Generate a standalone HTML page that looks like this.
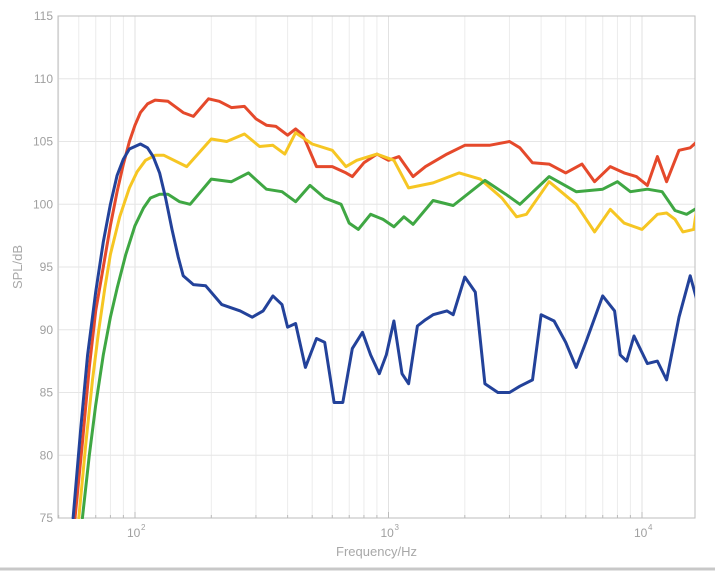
<!DOCTYPE html>
<html><head><meta charset="utf-8"><style>
html,body{margin:0;padding:0;background:#fff;}
svg{display:block;font-family:"Liberation Sans",sans-serif;}
</style></head><body>
<svg id="chart" width="715" height="574" viewBox="0 0 715 574">
<rect x="0" y="0" width="715" height="574" fill="#fff"/>
<g id="grid"></g><g id="axes"></g><g id="series"></g>
<line x1="0" y1="569" x2="715" y2="569" stroke="#c8c8c8" stroke-width="3"/>
</svg>
<script>
const yTicks=[75,80,85,90,95,100,105,110,115];
const xDecades=[100,1000,10000];
const xTickLabels=["2","3","4"];
const redF=[58,62,66,70,75,80,85,90,95,100,105,112,120,135,155,170,195,215,240,270,300,330,360,400,430,460,520,600,680,720,800,900,1000,1100,1250,1400,1700,2000,2500,3000,3300,3700,4300,5000,5800,6500,7500,8500,9500,10500,11500,12500,14000,15500,16500];
const redV=[75,81,87,91.5,95,98.3,101,103.2,105,106.3,107.3,108,108.3,108.2,107.3,107,108.4,108.2,107.7,107.8,106.8,106.3,106.2,105.5,106,105.5,103,103,102.5,102.2,103.3,104,103.5,103.8,102.2,103,104,104.7,104.7,105,104.5,103.3,103.2,102.5,103.2,101.8,103,102.5,102.2,101.5,103.8,101.8,104.3,104.5,105];
const yellowF=[60,64,68,72,76,80,87,95,102,110,120,130,160,200,230,270,310,350,390,430,500,600,680,750,900,1050,1200,1500,1900,2300,2800,3200,3500,4300,5500,6500,7500,8500,10000,11500,12500,13500,14500,16000,16500];
const yellowV=[75,81,86,90,93.3,96,99,101.3,102.6,103.5,103.9,103.9,103,105.2,105,105.6,104.6,104.7,104,105.7,104.8,104.3,103,103.5,104,103.5,101.3,101.7,102.5,102,100.5,99,99.2,101.8,100,97.8,99.6,98.5,98,99.2,99.3,98.8,97.8,98,99.8];
const greenF=[62,66,70,75,80,85,92,100,108,115,125,135,150,165,200,240,280,330,380,430,490,560,650,700,760,850,950,1050,1150,1250,1500,1800,2400,2900,3300,4300,5500,7000,8000,9000,10500,12000,13500,15000,16500];
const greenV=[75,80,84,88,91,93.3,96,98.3,99.7,100.5,100.8,100.8,100.2,100,102,101.8,102.5,101.2,101,100.2,101.5,100.5,100,98.5,98,99.2,98.8,98.2,99,98.4,100.3,99.9,101.9,100.8,100,102.2,101,101.2,101.8,101,101.2,101,99.5,99.2,99.7];
const blueF=[57,61,65,70,75,80,85,90,95,105,112,118,125,132,140,148,155,170,190,220,260,290,320,350,380,400,430,470,520,560,610,660,720,790,850,920,980,1050,1130,1200,1300,1400,1500,1700,1800,2000,2200,2400,2700,3000,3300,3700,4000,4500,5000,5500,6000,7000,7800,8200,8700,9300,10500,11500,12500,14000,15500,16500];
const blueV=[75,82,88,93,97,100,102.3,103.6,104.4,104.8,104.5,103.8,102.5,100.5,98,95.8,94.3,93.6,93.5,92,91.5,91,91.5,92.7,92,90.2,90.5,87,89.3,89,84.2,84.2,88.5,89.8,88,86.5,88,90.7,86.5,85.7,90.3,90.8,91.2,91.5,91.2,94.2,93,85.7,85,85,85.5,86,91.2,90.7,89,87,89,92.7,91.5,88,87.5,89.5,87.3,87.5,86,91,94.3,92.3];

const L=58,R=695,T=16,B=518;
const lfMin=2-(135-L)/253.5, lfMax=4+(R-642)/253.5;
function xs(f){return L+(Math.log10(f)-lfMin)/(lfMax-lfMin)*(R-L);}
function ys(v){return B-(v-75)/(115-75)*(B-T);}
const NS="http://www.w3.org/2000/svg";
const grid=document.getElementById('grid'),axes=document.getElementById('axes'),ser=document.getElementById('series');
function mk(tag,at,parent){const e=document.createElementNS(NS,tag);for(const k in at)e.setAttribute(k,at[k]);parent.appendChild(e);return e;}
for(let d=10;d<=10000;d*=10){for(let m=1;m<10;m++){const f=d*m;const x=xs(f);if(x<L||x>R)continue;
const g=mk('line',{x1:x,x2:x,y1:T,y2:B,stroke:m===1?'#e2e2e2':'#ececec','stroke-width':1},grid);


const t1=mk('line',{x1:x,x2:x,y1:B,y2:B-(m===1?6:3),stroke:'#bbb'},axes);

}}
yTicks.forEach(v=>{const y=ys(v);
const g=mk('line',{x1:L,x2:R,y1:y,y2:y,stroke:'#e6e6e6'},grid);


const t=mk('text',{x:L-5,y:y+4,'text-anchor':'end','font-size':12,fill:'#a0a0a0'},axes);t.textContent=v;

});
xDecades.forEach((f,i)=>{const x=xs(f);
const t=mk('text',{x:x-8,y:537,'font-size':12,fill:'#a0a0a0'},axes);t.textContent='10';


const s=mk('text',{x:x+6,y:530,'font-size':8,fill:'#a0a0a0'},axes);s.textContent=xTickLabels[i];

});
const box=mk('rect',{x:L,y:T,width:R-L,height:B-T,fill:'none',stroke:'#bdbdbd'},axes);


const xl=mk('text',{x:(L+R)/2,y:556,'text-anchor':'middle','font-size':13,fill:'#a8a8a8'},axes);xl.textContent='Frequency/Hz';


const yl=mk('text',{x:0,y:0,transform:'translate(22,267) rotate(-90)','text-anchor':'middle','font-size':13,fill:'#a8a8a8'},axes);yl.textContent='SPL/dB';


const defs=mk('defs',{},ser);const cp=mk('clipPath',{id:'clip'},defs);mk('rect',{x:L,y:T,width:R-L,height:B-T+1},cp);
function draw(F,V,color,name){const pts=F.map((f,i)=>xs(f).toFixed(1)+','+ys(V[i]).toFixed(1)).join(' ');
const p=mk('polyline',{points:pts,fill:'none',stroke:color,'stroke-width':3,'stroke-linejoin':'round','stroke-linecap':'round','clip-path':'url(#clip)'},ser);

}
draw(redF,redV,'#e5492b','series-red');
draw(yellowF,yellowV,'#f6c623','series-yellow');
draw(greenF,greenV,'#3fa743','series-green');
draw(blueF,blueV,'#23429a','series-blue');
</script>
</body></html>
